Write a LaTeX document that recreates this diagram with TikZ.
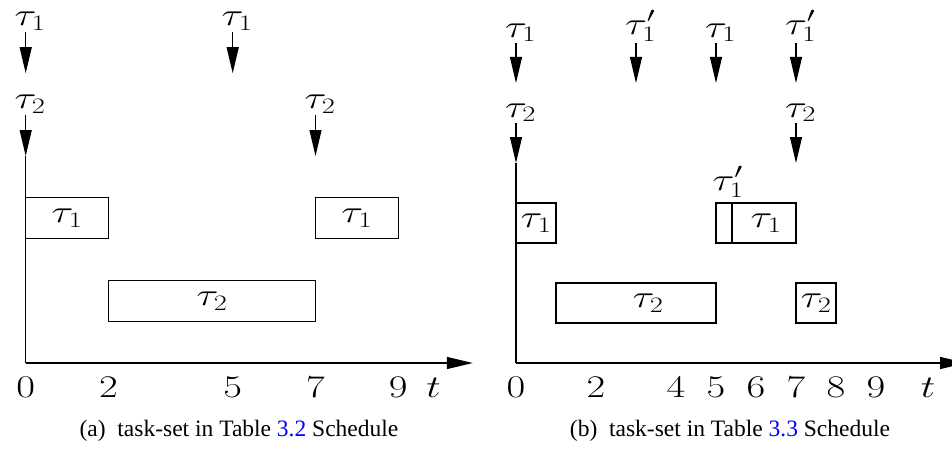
\RequirePackage{fix-cm}
\documentclass[tikz,border=0pt]{standalone}
\usepackage{fontspec}
\usepackage{graphicx}
\usetikzlibrary{arrows.meta}
\newfontfamily\capfont{Liberation Serif}
% the figure is stretched sideways, so is its text
\newcommand{\stretchx}[1]{\scalebox{1.29}[1]{#1}}

\begin{document}
\begin{tikzpicture}[x=1pt,y=1pt,
    lbl/.style={font=\fontsize{31.5}{36}\selectfont,inner sep=1pt},
    tick/.style={lbl,anchor=base,yshift=-34pt},
    rlbl/.style={lbl,anchor=south,xshift=4.5pt},
    job/.style={draw,line width=1.2pt},
    rel/.style={-{Triangle[length=26pt,width=12pt]},line width=1.2pt},
    subcap/.style={font=\capfont\fontsize{23.5}{28}\selectfont,anchor=base}]
    \useasboundingbox (0,0) rectangle (952,448);

    % (a) schedule
    \begin{scope}[shift={(25.7,85)},x=41.4pt,y=41.4pt]
        \coordinate (ao) at (0,0);
        \coordinate (ay) at (0,5);
        \coordinate (ax) at (10.8,0);
        \draw[line width=1.2pt] (ao) -- (ay);
        \draw[rel] (ao) -- (ax);

        \foreach \x in {0,2,5,7,9}
            \node[tick] (at\x) at (\x,0) {\stretchx{$\x$}};
        \node[tick] (att) at (9.85,0) {\stretchx{$t$}};

        \foreach \x in {0,5} {
            \coordinate (ars\x) at (\x,8);
            \coordinate (are\x) at (\x,7);
            \node[rlbl] (arl\x) at (ars\x) {\stretchx{$\tau_1$}};
            \draw[rel] (ars\x) -- (are\x);
        }
        \foreach \x in {0,7} {
            \coordinate (brs\x) at (\x,6);
            \coordinate (bre\x) at (\x,5);
            \node[rlbl] (brl\x) at (brs\x) {\stretchx{$\tau_2$}};
            \draw[rel] (brs\x) -- (bre\x);
        }

        \draw[job] (0,3) rectangle (2,4);
        \node[lbl] (aj1) at (1,3.5) {\stretchx{$\tau_1$}};
        \draw[job] (2,1) rectangle (7,2);
        \node[lbl] (aj2) at (4.5,1.5) {\stretchx{$\tau_2$}};
        \draw[job] (7,3) rectangle (9,4);
        \node[lbl] (aj3) at (8,3.5) {\stretchx{$\tau_1$}};
    \end{scope}

    % (b) schedule
    \begin{scope}[shift={(516,85)},x=40pt,y=40pt]
        \coordinate (bo) at (0,0);
        \coordinate (by) at (0,5);
        \coordinate (bx) at (11.25,0);
        \draw[line width=1.2pt] (bo) -- (by);
        \draw[rel] (bo) -- (bx);

        \foreach \x in {0,2,4,5,6,7,8,9}
            \node[tick] (bt\x) at (\x,0) {\stretchx{$\x$}};
        \node[tick] (btt) at (10.3,0) {\stretchx{$t$}};

        \foreach \x/\lab in {0/{\tau_1},3/{\tau_1'},5/{\tau_1},7/{\tau_1'}} {
            \coordinate (crs\x) at (\x,8);
            \coordinate (cre\x) at (\x,7);
            \node[rlbl] (crl\x) at (crs\x) {\stretchx{$\lab$}};
            \draw[rel] (crs\x) -- (cre\x);
        }
        \foreach \x in {0,7} {
            \coordinate (drs\x) at (\x,6);
            \coordinate (dre\x) at (\x,5);
            \node[rlbl] (drl\x) at (drs\x) {\stretchx{$\tau_2$}};
            \draw[rel] (drs\x) -- (dre\x);
        }

        \draw[job] (0,3) rectangle (1,4);
        \node[lbl] (bj1) at (0.5,3.5) {\stretchx{$\tau_1$}};
        \draw[job] (1,1) rectangle (5,2);
        \node[lbl] (bj2) at (3.3,1.5) {\stretchx{$\tau_2$}};
        \draw[job] (5,3) rectangle (5.4,4);
        \node[lbl,anchor=south] (bj3) at (5.3,4.1) {\stretchx{$\tau_1'$}};
        \draw[job] (5.4,3) rectangle (7,4);
        \node[lbl] (bj4) at (6.25,3.5) {\stretchx{$\tau_1$}};
        \draw[job] (7,1) rectangle (8,2);
        \node[lbl] (bj5) at (7.5,1.5) {\stretchx{$\tau_2$}};
    \end{scope}

    \node[subcap] (capa) at (239,12) {(a)\ \ task-set in Table \textcolor{blue}{3.2} Schedule};
    \node[subcap] (capb) at (730,12) {(b)\ \ task-set in Table \textcolor{blue}{3.3} Schedule};
\end{tikzpicture}
\end{document}
